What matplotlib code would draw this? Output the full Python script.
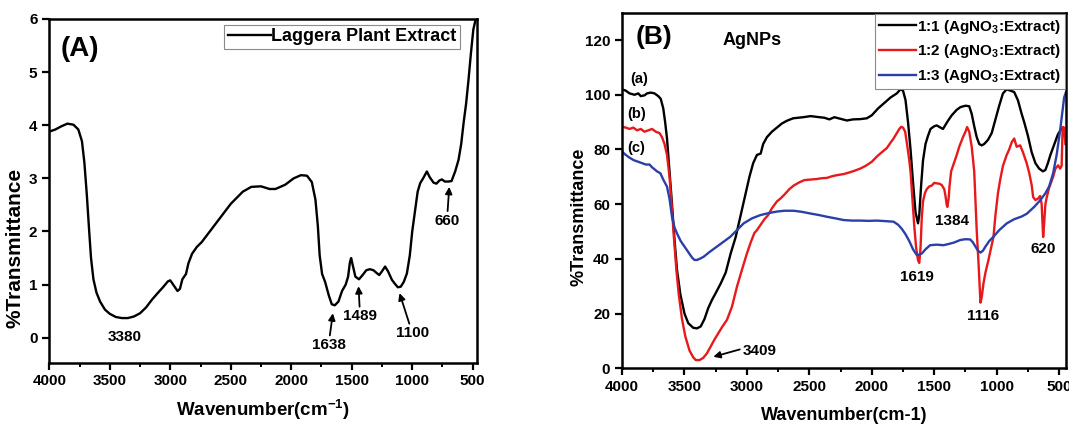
"""
FTIR spectra: (A) Laggera plant extract, (B) AgNPs at three AgNO3:extract ratios.
"""
import numpy as np
import matplotlib
matplotlib.use("Agg")
import matplotlib.pyplot as plt

plt.rcParams["font.family"] = ["Liberation Sans", "DejaVu Sans"]
plt.rcParams["font.weight"] = "bold"
plt.rcParams["mathtext.fontset"] = "custom"
plt.rcParams["mathtext.rm"] = "Liberation Sans"
plt.rcParams["mathtext.bf"] = "Liberation Sans:bold"

# ---- panel A : plant extract ----
wn_a = [4000, 3950, 3900, 3850, 3800, 3760, 3730, 3710, 3690, 3670, 3655, 3635,
        3610, 3580, 3540, 3500, 3450, 3400, 3350, 3300, 3250, 3200, 3150, 3100,
        3060, 3020, 3000, 2970, 2940, 2920, 2900, 2870, 2850, 2820, 2780, 2740,
        2700, 2600, 2500, 2400, 2330, 2250, 2180, 2130, 2050, 1980, 1920, 1870,
        1830, 1800, 1780, 1765, 1745, 1720, 1690, 1665, 1640, 1610, 1580, 1550,
        1530, 1515, 1505, 1490, 1470, 1440, 1410, 1380, 1350, 1320, 1295, 1273,
        1250, 1224, 1200, 1168, 1145, 1119, 1095, 1070, 1044, 1020, 1000, 976,
        955, 934, 910, 879, 855, 824, 800, 775, 755, 730, 700, 675, 645, 617,
        595, 575, 555, 535, 515, 495, 470]
t_a = [3.88, 3.92, 3.98, 4.03, 4.01, 3.92, 3.70, 3.30, 2.70, 2.00, 1.50, 1.10,
       0.85, 0.68, 0.53, 0.45, 0.39, 0.37, 0.37, 0.40, 0.46, 0.57, 0.72, 0.85,
       0.95, 1.06, 1.08, 0.98, 0.88, 0.92, 1.10, 1.20, 1.40, 1.58, 1.71, 1.80,
       1.92, 2.22, 2.52, 2.75, 2.84, 2.85, 2.80, 2.80, 2.88, 3.00, 3.06, 3.05,
       2.93, 2.60, 2.10, 1.55, 1.20, 1.05, 0.80, 0.63, 0.61, 0.68, 0.88, 1.00,
       1.15, 1.42, 1.50, 1.35, 1.15, 1.10, 1.18, 1.27, 1.29, 1.27, 1.22, 1.18,
       1.25, 1.34, 1.25, 1.09, 1.02, 0.95, 0.96, 1.05, 1.21, 1.55, 2.00, 2.40,
       2.75, 2.91, 3.00, 3.13, 3.02, 2.92, 2.90, 2.96, 2.98, 2.94, 2.94, 2.95,
       3.13, 3.35, 3.65, 4.05, 4.40, 4.85, 5.35, 5.80, 6.05]

# ---- panel B : AgNPs ----
wn_b1 = [4000, 3970, 3940, 3900, 3870, 3850, 3820, 3800, 3770, 3740, 3710, 3690,
         3670, 3655, 3640, 3620, 3600, 3580, 3560, 3533, 3500, 3470, 3430, 3400,
         3370, 3340, 3310, 3280, 3250, 3210, 3170, 3130, 3090, 3050, 3010, 2980,
         2950, 2920, 2890, 2870, 2840, 2800, 2760, 2720, 2680, 2630, 2550, 2490,
         2420, 2380, 2340, 2300, 2250, 2200, 2150, 2093, 2040, 2000, 1950, 1900,
         1850, 1800, 1770, 1750, 1730, 1710, 1690, 1670, 1650, 1630, 1620, 1605,
         1590, 1570, 1550, 1530, 1500, 1480, 1450, 1430, 1410, 1390, 1360, 1320,
         1290, 1250, 1220, 1200, 1180, 1160, 1140, 1120, 1100, 1070, 1040, 1010,
         980, 950, 920, 890, 860, 830, 800, 780, 750, 720, 690, 660, 630, 610,
         590, 570, 550, 530, 510, 490, 470]
t_b1 = [102, 101.5, 100.5, 100, 100.5, 99.5, 99.8, 100.5, 100.8, 100.5, 99.5, 98.5,
        95, 90, 84, 72, 60, 47, 36, 27, 20, 16.5, 14.8, 14.6,
        15.3, 18, 22, 25, 27.5, 31, 35, 42, 48, 56, 64, 70,
        75, 78, 78.5, 82, 84.5, 86.5, 88, 89.5, 90.5, 91.4, 91.8, 92.2,
        91.8, 91.6, 91, 91.8, 91.2, 90.6, 91, 91.1, 91.4, 92.5, 95, 97,
        99, 100.5, 102, 101.5, 98, 90, 80, 68, 57, 53, 56, 67,
        76, 82, 85, 87.5, 88.5, 88.8, 88, 87.5, 89, 90.5, 92.5, 94.5,
        95.5, 96, 95.8, 93, 88.5, 84.5, 82, 81.5, 82, 83.5, 86, 91,
        96, 100.5, 102, 101.5, 101, 98, 93, 90, 85, 79, 75, 73, 72, 72.5,
        75, 78, 80.5, 83, 85.5, 87, 88]

wn_b2 = [4000, 3970, 3940, 3910, 3880, 3850, 3820, 3790, 3760, 3730, 3700, 3680,
         3660, 3640, 3620, 3600, 3585, 3565, 3546, 3520, 3493, 3460, 3430, 3410,
         3380, 3350, 3320, 3290, 3260, 3240, 3200, 3160, 3120, 3080, 3040, 3000,
         2970, 2940, 2920, 2890, 2860, 2830, 2800, 2760, 2733, 2700, 2660, 2626,
         2580, 2540, 2493, 2440, 2400, 2360, 2320, 2280, 2226, 2180, 2140, 2093,
         2050, 2000, 1960, 1920, 1880, 1850, 1826, 1800, 1780, 1765, 1750, 1733,
         1715, 1700, 1690, 1675, 1660, 1645, 1630, 1620, 1610, 1600, 1590, 1575,
         1560, 1540, 1520, 1500, 1480, 1460, 1440, 1420, 1410, 1400, 1395, 1385,
         1378, 1365, 1350, 1320, 1300, 1270, 1250, 1237, 1220, 1200, 1180, 1160,
         1145, 1130, 1120, 1106, 1090, 1066, 1040, 1026, 1010, 990, 973, 950,
         920, 900, 879, 860, 840, 812, 790, 760, 740, 720, 708, 690, 670, 652,
         640, 628, 620, 610, 599, 580, 560, 548, 530, 508, 492, 480, 472, 460, 450]
t_b2 = [88.3, 88, 87.5, 88, 87, 87.5, 86.5, 87, 87.5, 86.5, 86, 84.5,
        82, 78, 70, 58, 48, 36, 27, 18, 11.6, 6.5, 4, 3,
        3, 3.8, 5.5, 8, 10.5, 12, 15, 17.7, 22.5, 29.8, 36, 42,
        46, 49.5, 50.5, 52.5, 54.5, 56, 58.5, 61, 62, 63.5, 65.5, 66.8,
        68, 68.8, 69, 69.2, 69.5, 69.6, 70.2, 70.6, 71, 71.6, 72.2, 73,
        74, 75.5, 77.4, 79, 80.5, 82.5, 84, 86, 87.5, 88.3, 88, 86.5,
        81, 76, 72, 62, 52, 44, 39.5, 38.5, 44, 55, 61, 64,
        65.5, 66.5, 66.8, 67.8, 67.6, 67.5, 67, 65.5, 63, 59.7, 59, 62,
        66.4, 72, 74, 78, 81, 84.5, 86.5, 88.2, 86.5, 81, 72, 50.4,
        38, 24, 26, 31, 35, 39.6, 45, 48, 56, 64, 68.7, 74,
        78, 80, 82.7, 84, 81, 81.5, 79, 75, 71.5, 67, 62.6, 61.5, 62, 63,
        60, 48, 53, 60, 62.6, 66, 68.5, 70, 73, 74.2, 73, 74, 88.2, 88, 82]

wn_b3 = [4000, 3970, 3940, 3907, 3870, 3840, 3810, 3780, 3760, 3720, 3693, 3670,
         3640, 3620, 3600, 3580, 3560, 3530, 3500, 3470, 3440, 3420, 3400, 3370,
         3346, 3300, 3240, 3180, 3133, 3080, 3026, 2960, 2893, 2820, 2760, 2700,
         2626, 2560, 2493, 2420, 2360, 2290, 2226, 2160, 2093, 2020, 1960, 1890,
         1826, 1790, 1760, 1730, 1700, 1670, 1640, 1620, 1599, 1570, 1533, 1480,
         1426, 1380, 1340, 1292, 1250, 1212, 1190, 1170, 1150, 1130, 1110, 1090,
         1060, 1026, 980, 919, 860, 800, 759, 700, 652, 610, 580, 548,
         520, 492, 460, 445]
t_b3 = [79.2, 78, 77, 76.1, 75.5, 75, 74.5, 74.5, 73.5, 72, 71.3, 69,
        66.4, 62, 55.4, 51.5, 49.3, 46.5, 44.5, 42.5, 40.5, 39.6, 39.6, 40.2,
        40.8, 42.5, 44.5, 46.5, 48.1, 50.5, 53, 54.8, 56, 56.8, 57.3, 57.6,
        57.6, 57.2, 56.6, 56, 55.4, 54.8, 54.2, 54, 54, 53.9, 54, 53.8,
        53.6, 52.5, 51, 49, 46.5, 43.5, 41.4, 41.5, 42, 43.5, 45, 45.2,
        45, 45.5, 46, 46.9, 47.2, 47.1, 46, 44.5, 43, 42.3, 43, 44.5,
        46.5, 48.1, 50.5, 53, 54.5, 55.5, 56.5, 59, 61.4, 64, 66.5, 71.3,
        78, 87, 99, 101]

labels_b = ["1:1 (AgNO$_\\mathbf{3}$:Extract)",
            "1:2 (AgNO$_\\mathbf{3}$:Extract)",
            "1:3 (AgNO$_\\mathbf{3}$:Extract)"]
colors_b = ["black", "#e8191c", "#2b3fa8"]

xticks = np.arange(4000, 499, -500)
arrow = dict(arrowstyle="-|>", color="black", lw=1.3, mutation_scale=10,
             shrinkA=0, shrinkB=0)

fig = plt.figure(figsize=(10.69, 4.24), dpi=100)
ax1 = fig.add_axes([0.0461, 0.1446, 0.4004, 0.8106])
ax2 = fig.add_axes([0.5819, 0.1314, 0.4153, 0.8386])

for ax in (ax1, ax2):
    for sp in ax.spines.values():
        sp.set_linewidth(1.8)
    ax.set_xticks(xticks)
    ax.set_xticks(xticks[:-1] - 250, minor=True)
    ax.tick_params(axis="both", which="major", direction="out", length=5,
                   width=1.6, labelsize=11)
    ax.tick_params(axis="x", which="minor", direction="out", length=3, width=1.4)
    for lab in ax.get_xticklabels() + ax.get_yticklabels():
        lab.set_fontweight("bold")

# panel A
ax1.plot(wn_a, t_a, color="black", lw=1.7, label="Laggera Plant Extract")
ax1.set_xlim(4000, 462)
ax1.set_ylim(-0.47, 6)
ax1.set_yticks(range(0, 7))
ax1.set_xlabel("Wavenumber(cm$^{\\mathbf{-1}}$)", fontsize=13.5, fontweight="bold")
ax1.xaxis.set_label_coords(0.5, -0.1)
ax1.set_ylabel("%Transmittance", fontsize=15, fontweight="bold")
ax1.yaxis.set_label_coords(-0.058, 0.334)
ax1.text(3746, 5.43, "(A)", fontsize=20, fontweight="bold", ha="center", va="center")
ax1.text(3374, 0.02, "3380", fontsize=11, fontweight="bold", ha="center", va="center")
ax1.annotate("1638", xy=(1656, 0.46), xytext=(1692, -0.14), fontsize=11,
             fontweight="bold", ha="center", va="center", arrowprops=arrow)
ax1.annotate("1489", xy=(1444, 0.97), xytext=(1431, 0.40), fontsize=11,
             fontweight="bold", ha="center", va="center", arrowprops=arrow)
ax1.annotate("1100", xy=(1105, 0.84), xytext=(998, 0.08), fontsize=11,
             fontweight="bold", ha="center", va="center", arrowprops=arrow)
ax1.annotate("660", xy=(694, 2.84), xytext=(713, 2.20), fontsize=11,
             fontweight="bold", ha="center", va="center", arrowprops=arrow)
leg1 = ax1.legend(loc="upper right", bbox_to_anchor=(0.96, 0.983), borderaxespad=0,
                  prop=dict(size=13, weight="bold"), handlelength=2.4,
                  handletextpad=0.0, borderpad=0.2, fancybox=False, framealpha=1)
leg1.get_frame().set_edgecolor("#8a8a8a")
leg1.get_frame().set_linewidth(0.8)

# panel B
for wn, t, c, lab in zip([wn_b1, wn_b2, wn_b3], [t_b1, t_b2, t_b3], colors_b, labels_b):
    ax2.plot(wn, t, color=c, lw=1.7, label=lab)
ax2.set_xlim(4000, 445)
ax2.set_ylim(0, 130)
ax2.set_yticks(range(0, 121, 20))
ax2.set_xlabel("Wavenumber(cm-1)", fontsize=13, fontweight="bold")
ax2.xaxis.set_label_coords(0.5, -0.108)
ax2.set_ylabel("%Transmittance", fontsize=13, fontweight="bold")
ax2.yaxis.set_label_coords(-0.078, 0.426)
ax2.text(3747, 121, "(B)", fontsize=19, fontweight="bold", ha="center", va="center")
ax2.text(2959, 119.8, "AgNPs", fontsize=13, fontweight="bold", ha="center", va="center")
for s, x, y in [("(a)", 3861, 105.6), ("(b)", 3880, 93), ("(c)", 3885, 80.4)]:
    ax2.text(x, y, s, fontsize=10.5, fontweight="bold", ha="center", va="center")
for s, x, y in [("1619", 1639, 33.3), ("1384", 1359, 54), ("1116", 1111, 19.1),
                ("620", 626, 43.5)]:
    ax2.text(x, y, s, fontsize=11, fontweight="bold", ha="center", va="center")
ax2.annotate("", xy=(3269, 4.2), xytext=(3057, 6.9), arrowprops=arrow)
ax2.text(2895, 6.3, "3409", fontsize=11, fontweight="bold", ha="center", va="center")
leg2 = ax2.legend(loc="upper right", bbox_to_anchor=(0.998, 0.997), borderaxespad=0,
                  prop=dict(size=11, weight="bold"), handlelength=2.4,
                  handletextpad=0.1, borderpad=0.25, labelspacing=0.45,
                  fancybox=False, framealpha=1)
leg2.get_frame().set_edgecolor("#8a8a8a")
leg2.get_frame().set_linewidth(0.8)

fig.savefig("out.png", dpi=100)
